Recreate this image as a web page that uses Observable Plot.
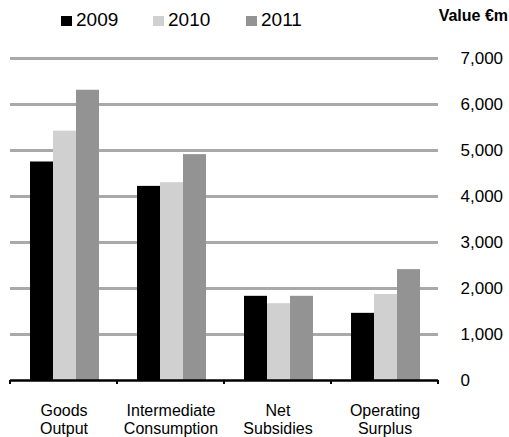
<!DOCTYPE html>
<html>
<head>
<meta charset="utf-8">
<script src="https://cdn.jsdelivr.net/npm/d3@7"></script>
<script src="https://cdn.jsdelivr.net/npm/@observablehq/plot@0.6"></script>
<style>
  html, body { margin: 0; padding: 0; background: #fff; }
  #wrap { position: relative; width: 509px; height: 437px; font-family: "Liberation Sans", Arial, sans-serif; color: #000; overflow: hidden; }
  #legend { position: relative; height: 40px; }
  .item { position: absolute; top: 9px; display: flex; align-items: center; font-size: 19px; line-height: 22px; }
  .sw { width: 11px; height: 10px; margin-right: 4px; margin-top: 2px; }
  #unit { position: absolute; right: 1px; top: 7px; font-weight: bold; font-size: 16px; line-height: 18px; }
  #chart { position: absolute; left: 0; top: 40px; }
</style>
</head>
<body>
<div id="wrap">
  <div id="legend"></div>
  <div id="chart"></div>
</div>
<script>
const categories = ["Goods Output", "Intermediate Consumption", "Net Subsidies", "Operating Surplus"];
const categoryLabels = ["Goods\nOutput", "Intermediate\nConsumption", "Net\nSubsidies", "Operating\nSurplus"];
const years = ["2009", "2010", "2011"];
const values2009 = [4750, 4220, 1830, 1460];
const values2010 = [5420, 4300, 1670, 1870];
const values2011 = [6310, 4910, 1830, 2410];
const yTicks = [0, 1000, 2000, 3000, 4000, 5000, 6000, 7000];
const colors = ["#000000", "#d0d0d0", "#939393"];
const unitLabel = "Value €m";

const series = [values2009, values2010, values2011];
const data = categories.flatMap((c, i) => years.map((y, j) => ({category: c, year: y, value: series[j][i]})));

// legend
const legendLefts = [61, 153, 246];
const legend = document.getElementById("legend");
years.forEach((y, j) => {
  const it = document.createElement("div");
  it.className = "item";
  it.style.left = legendLefts[j] + "px";
  const sw = document.createElement("span");
  sw.className = "sw";
  sw.style.background = colors[j];
  it.appendChild(sw);
  it.appendChild(document.createTextNode(y));
  legend.appendChild(it);
});
const unit = document.createElement("div");
unit.id = "unit";
unit.textContent = unitLabel;
legend.appendChild(unit);

const fontFamily = '"Liberation Sans", Arial, sans-serif';
const plot = Plot.plot({
  width: 509,
  height: 397,
  marginTop: 18,
  marginBottom: 57,
  marginLeft: 9,
  marginRight: 71,
  style: {fontFamily, fontSize: "17px", color: "#000", background: "white", overflow: "visible"},
  fx: {domain: categories, padding: 0, label: null},
  x: {domain: years, paddingInner: 0, paddingOuter: 0.75, align: 0.53, axis: null},
  y: {domain: [0, 7000], axis: null},
  color: {domain: years, range: colors},
  marks: [
    Plot.gridY(yTicks.slice(1), {stroke: "#a9a9a9", strokeWidth: 3, strokeOpacity: 1}),
    Plot.barY(data, {fx: "category", x: "year", y: "value", fill: "year", inset: 0}),
    Plot.ruleY([0], {stroke: "#000", strokeWidth: 2.5}),
    Plot.axisY(yTicks, {anchor: "right", tickSize: 0, tickPadding: 22, tickFormat: d3.format(","), fontSize: 17, fill: "#000", label: null}),
    Plot.axisFx({anchor: "bottom", tickSize: 0, tickPadding: 22, fontSize: 16, fill: "#000", lineHeight: 1.15, label: null,
      tickFormat: c => categoryLabels[categories.indexOf(c)]})
  ]
});
document.getElementById("chart").appendChild(plot);

// tick marks at category boundaries on the zero axis, from the library's scales
const fxS = plot.scale("fx"), yS = plot.scale("y");
const y0 = yS.apply(0);
const bounds = categories.map(c => fxS.apply(c));
bounds.push(fxS.apply(categories[categories.length - 1]) + fxS.bandwidth);
const svg = d3.select(plot.tagName.toLowerCase() === "svg" ? plot : plot.querySelector("svg"));
svg.append("g")
  .selectAll("line")
  .data(bounds)
  .join("line")
  .attr("x1", d => d).attr("x2", d => d)
  .attr("y1", y0).attr("y2", y0 + 4)
  .attr("stroke", "#000").attr("stroke-width", 2);
</script>
</body>
</html>
